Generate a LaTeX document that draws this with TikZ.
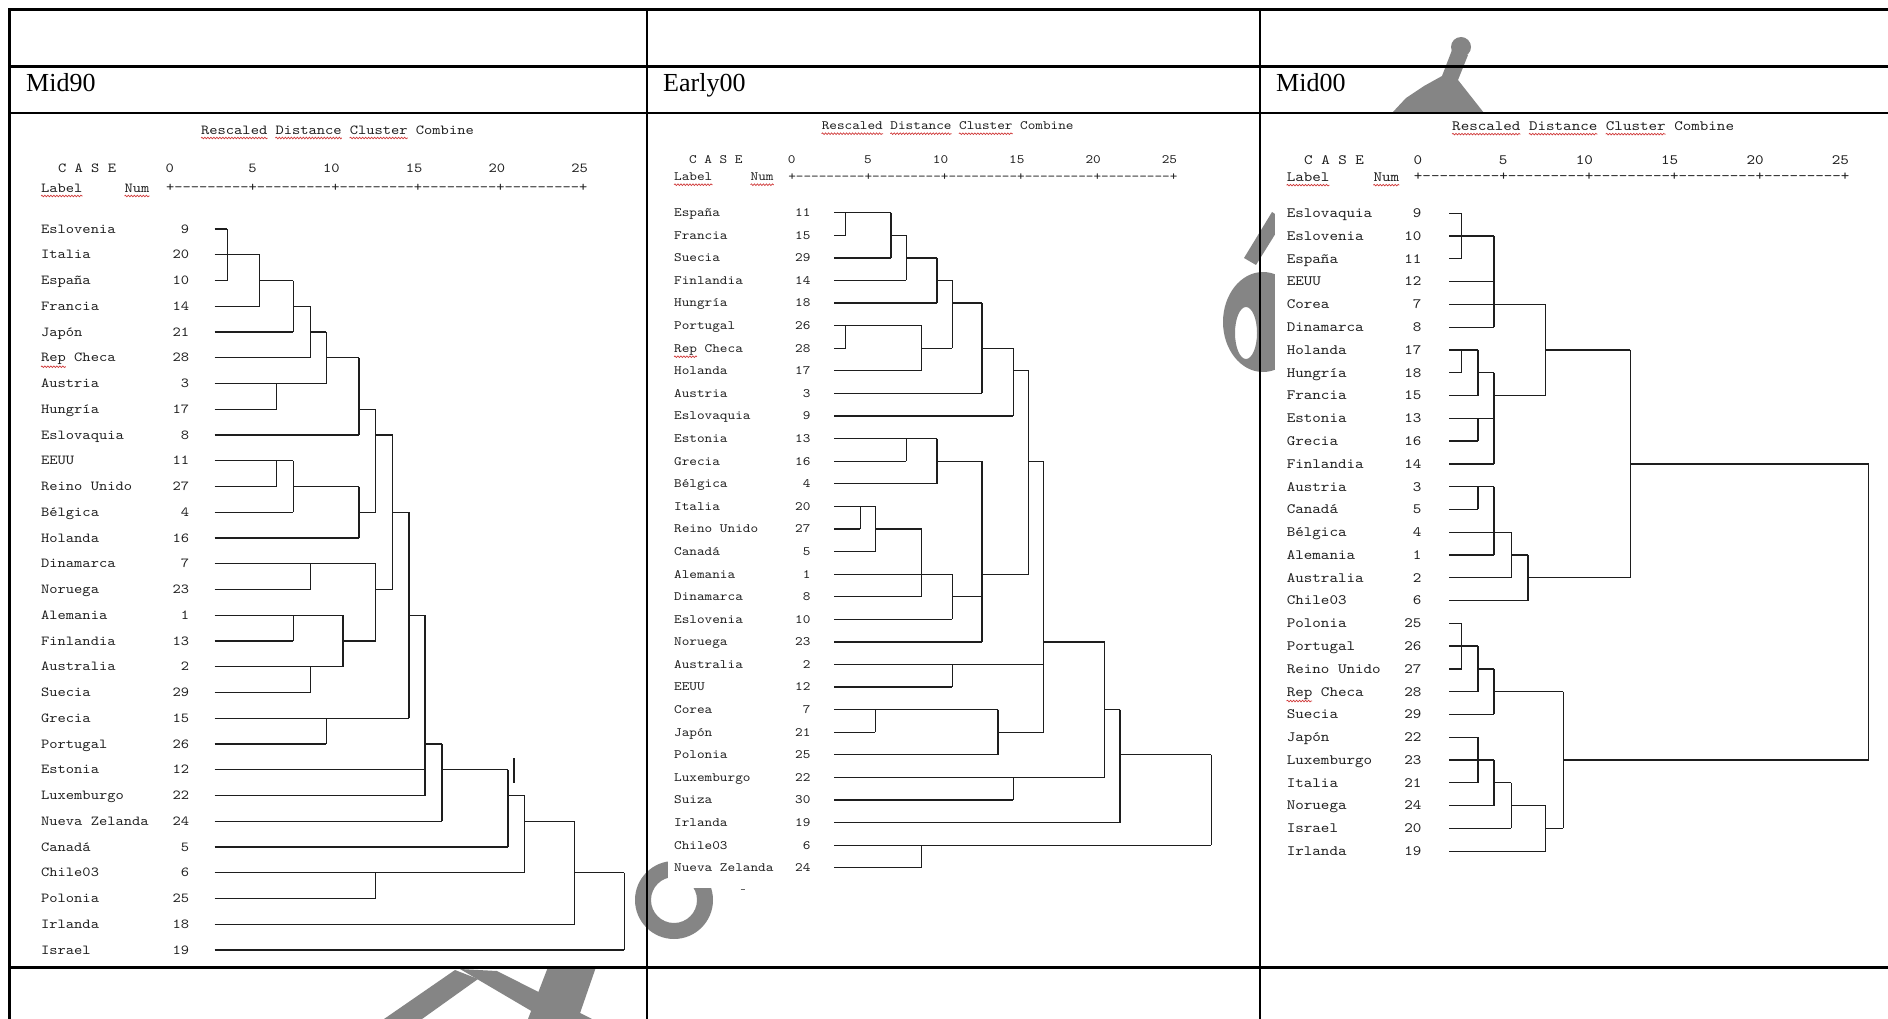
\documentclass[tikz,border=0pt]{standalone}
\usepackage{fontspec}
\newfontfamily\hdrfont{Liberation Serif}
\newfontfamily\dmono{lmmono10-regular.otf}[FakeStretch=1.14]
\usetikzlibrary{decorations.pathmorphing}
\definecolor{wm}{HTML}{858585}
\definecolor{dln}{HTML}{1E1E1E}
\definecolor{sq}{HTML}{D03A3A}
\tikzset{
  tline/.style={line width=2.4pt, black, line cap=rect},
  dline/.style={line width=1.25pt, dln, line cap=square},
  hdr/.style={font=\hdrfont\fontsize{26}{28}\selectfont, inner sep=0pt, anchor=base west},
  mt/.style={font=\dFont, inner sep=0pt, anchor=base west, text=black!88},
  mtr/.style={font=\dFont, inner sep=0pt, anchor=base east, text=black!88},
  squig/.style={draw=sq, line width=0.7pt, decorate, decoration={snake, amplitude=0.8pt, segment length=3pt}},
}
\newcommand{\dendDash}{-\kern0pt-\kern0pt-\kern0pt-\kern0pt-\kern0pt-\kern0pt-\kern0pt-\kern0pt-}
\newcommand{\dendRuler}{+\kern0pt\dendDash\kern0pt+\kern0pt\dendDash\kern0pt+\kern0pt\dendDash\kern0pt+\kern0pt\dendDash\kern0pt+\kern0pt\dendDash\kern0pt+}
\newcommand{\dendH}[3]{\draw[dline] (#2,{\dYz+(#1-1)*\dYs}) -- (#3,{\dYz+(#1-1)*\dYs});}
\newcommand{\dendV}[3]{\draw[dline] (#1,{\dYz+(#2-1)*\dYs}) -- (#1,{\dYz+(#3-1)*\dYs});}
\newcommand{\dendRow}[3]{%
  \node[mt] (\dP l#1) at (\dLx,{\dYz+(#1-1)*\dYs+\dBo}) {#2};%
  \node[mtr] (\dP n#1) at (\dNx,{\dYz+(#1-1)*\dYs+\dBo}) {#3};}
\newcommand{\dendScale}[3]{%
  \foreach \k/\v in {0/0,1/5,2/10,3/15,4/20,5/25}{%
    \node[mtr] (\dP s\k) at ({#1+\k*#2+\dCw/2},#3) {\v};}}
\newcommand{\dendHead}[8]{%
  \node[mt] (\dP t1) at (#1,#2) {Rescaled};
  \node[mt] (\dP t2) at ({#1+9*\dCw},#2) {Distance};
  \node[mt] (\dP t3) at ({#1+18*\dCw},#2) {Cluster};
  \node[mt] (\dP t4) at ({#1+26*\dCw},#2) {Combine};
  \node[mt] (\dP case) at (#3,#4) {C A S E};
  \node[mt] (\dP lab) at (#5,#7) {Label};
  \node[mt] (\dP num) at (#6,#7) {Num};
  \node[mt] (\dP rul) at ({\dPl-\dCw/2},#8) {\dendRuler};
  \foreach \w in {t1,t2,t3,lab,num}{\draw[squig] ([yshift=-3.8pt]\dP\w.base west) -- ([yshift=-3.8pt]\dP\w.base east);}
}
\begin{document}
\begin{tikzpicture}[x=1pt,y=-1pt]
\useasboundingbox (0,0) rectangle (1888,1019);
\fill[white] (0,0) rectangle (1888,1019);
% ---------- watermark (behind the pictures) ----------
\fill[wm] (1461,47) circle (10);
\fill[wm] (1452,50) -- (1468,55) -- (1458,80) -- (1484,113) -- (1392,113) -- (1406,98) -- (1424,86) -- (1442,76) -- cycle;
\begin{scope}
  \clip (1222,113) rectangle (1276,967);
  \fill[wm] (1244,258) -- (1256,265) -- (1284,220) -- (1272,212) -- cycle;
  \fill[wm, even odd rule] (1263,322) ellipse [x radius=40, y radius=50] (1246,333) ellipse [x radius=11, y radius=26];
\end{scope}
\fill[wm, even odd rule] (674,900) circle (39) (674,900) circle (23);
\fill[wm] (384,1019) -- (422,1019) -- (478,979) -- (455,970) -- cycle;
\fill[wm] (460,969) -- (497,971) -- (592,1019) -- (545,1019) -- cycle;
\fill[wm] (548,967) -- (596,967) -- (578,1019) -- (528,1019) -- cycle;
% picture backgrounds
\fill[white] (25,113.5) rectangle (635,967.5);
\fill[white] (668,113.5) rectangle (1222,888);
\fill[white] (1275,113.5) rectangle (1888,967.5);
% ---------- table ----------
\draw[tline] (9.3,9.5) -- (1888,9.5);
\draw[tline] (9.3,66.7) -- (1888,66.7);
\draw[tline] (9.3,113.3) -- (1888,113.3);
\draw[tline] (9.3,967.5) -- (1888,967.5);
\draw[tline] (9.3,9.5) -- (9.3,1019);
\draw[tline] (647,9.5) -- (647,1019);
\draw[tline] (1260,9.5) -- (1260,1019);
\node[hdr] (h1) at (26,91.5) {Mid90};
\node[hdr] (h2) at (663,91.5) {Early00};
\node[hdr] (h3) at (1276,91.5) {Mid00};
% ================= Panel 1 : Mid90 =================
\def\dFont{\dmono\fontsize{13.8}{14}\selectfont}
\def\dP{A}\def\dCw{8.26}\def\dPl{170}
\def\dLx{41}\def\dNx{189.4}\def\dYz{229}\def\dYs{25.75}\def\dBo{4.2}
\dendHead{201}{134.2}{58}{172.2}{41}{124.5}{192.2}{191.5}
\dendScale{170}{82.8}{172.2}
\dendRow{1}{Eslovenia}{9}
\dendRow{2}{Italia}{20}
\dendRow{3}{España}{10}
\dendRow{4}{Francia}{14}
\dendRow{5}{Japón}{21}
\dendRow{6}{Rep Checa}{28}
\dendRow{7}{Austria}{3}
\dendRow{8}{Hungría}{17}
\dendRow{9}{Eslovaquia}{8}
\dendRow{10}{EEUU}{11}
\dendRow{11}{Reino Unido}{27}
\dendRow{12}{Bélgica}{4}
\dendRow{13}{Holanda}{16}
\dendRow{14}{Dinamarca}{7}
\dendRow{15}{Noruega}{23}
\dendRow{16}{Alemania}{1}
\dendRow{17}{Finlandia}{13}
\dendRow{18}{Australia}{2}
\dendRow{19}{Suecia}{29}
\dendRow{20}{Grecia}{15}
\dendRow{21}{Portugal}{26}
\dendRow{22}{Estonia}{12}
\dendRow{23}{Luxemburgo}{22}
\dendRow{24}{Nueva Zelanda}{24}
\dendRow{25}{Canadá}{5}
\dendRow{26}{Chile03}{6}
\dendRow{27}{Polonia}{25}
\dendRow{28}{Irlanda}{18}
\dendRow{29}{Israel}{19}
\draw[squig] ([yshift=-4.8pt]Al6.base west) -- ++(24.8,0);
\def\dxa{214.6}\def\dxb{227.3}\def\dxc{259.7}\def\dxd{276.5}\def\dxe{293.4}\def\dxf{310.2}
\def\dxg{326.2}\def\dxh{343.0}\def\dxi{359.0}\def\dxj{375.8}\def\dxk{392.7}\def\dxl{409.1}
\def\dxm{425.1}\def\dxn{441.9}\def\dxo{508.0}\def\dxp{524.8}\def\dxq{574.5}\def\dxr{624.2}
\dendH{1}{\dxa}{\dxb}
\dendH{2}{\dxa}{\dxc}
\dendH{3}{\dxa}{\dxb}\dendH{3}{\dxc}{\dxe}
\dendH{4}{\dxa}{\dxc}\dendH{4}{\dxe}{\dxf}
\dendH{5}{\dxa}{\dxe}\dendH{5}{\dxf}{\dxg}
\dendH{6}{\dxa}{\dxf}\dendH{6}{\dxg}{\dxi}
\dendH{7}{\dxa}{\dxg}
\dendH{8}{\dxa}{\dxd}\dendH{8}{\dxi}{\dxj}
\dendH{9}{\dxa}{\dxi}\dendH{9}{\dxj}{\dxk}
\dendH{10}{\dxa}{\dxe}
\dendH{11}{\dxa}{\dxd}\dendH{11}{\dxe}{\dxi}
\dendH{12}{\dxa}{\dxe}\dendH{12}{\dxi}{\dxj}\dendH{12}{\dxk}{\dxl}
\dendH{13}{\dxa}{\dxi}
\dendH{14}{\dxa}{\dxj}
\dendH{15}{\dxa}{\dxf}\dendH{15}{\dxj}{\dxk}
\dendH{16}{\dxa}{\dxh}\dendH{16}{\dxl}{\dxm}
\dendH{17}{\dxa}{\dxe}\dendH{17}{\dxh}{\dxj}
\dendH{18}{\dxa}{\dxh}
\dendH{19}{\dxa}{\dxf}
\dendH{20}{\dxa}{\dxl}
\dendH{21}{\dxa}{\dxg}\dendH{21}{\dxm}{\dxn}
\dendH{22}{\dxa}{\dxm}\dendH{22}{\dxn}{\dxo}
\dendH{23}{\dxa}{\dxm}\dendH{23}{\dxo}{\dxp}
\dendH{24}{\dxa}{\dxn}\dendH{24}{\dxp}{\dxq}
\dendH{25}{\dxa}{\dxo}
\dendH{26}{\dxa}{\dxp}\dendH{26}{\dxq}{\dxr}
\dendH{27}{\dxa}{\dxj}
\dendH{28}{\dxa}{\dxq}
\dendH{29}{\dxa}{\dxr}
\dendV{\dxb}{1}{3}\dendV{\dxc}{2}{4}\dendV{\dxe}{3}{5}\dendV{\dxf}{4}{6}
\dendV{\dxg}{5}{7}\dendV{\dxd}{7}{8}\dendV{\dxi}{6}{9}\dendV{\dxj}{8}{12}
\dendV{\dxd}{10}{11}\dendV{\dxe}{10}{12}\dendV{\dxi}{11}{13}\dendV{\dxf}{14}{15}
\dendV{\dxe}{16}{17}\dendV{\dxf}{18}{19}\dendV{\dxh}{16}{18}\dendV{\dxj}{14}{17}
\dendV{\dxk}{9}{15}\dendV{\dxl}{12}{20}\dendV{\dxg}{20}{21}\dendV{\dxm}{16}{23}
\dendV{\dxn}{21}{24}\dendV{\dxo}{22}{25}\dendV{\dxj}{26}{27}\dendV{\dxp}{23}{26}
\dendV{\dxq}{24}{28}\dendV{\dxr}{26}{29}
\draw[line width=2pt, dln] (513.5,758) -- (513.5,783);
% ================= Panel 2 : Early00 =================
\def\dFont{\dmono\fontsize{12.75}{13}\selectfont}
\def\dP{B}\def\dCw{7.63}\def\dPl{791.9}
\def\dLx{674}\def\dNx{810.7}\def\dYz{212.7}\def\dYs{22.59}\def\dBo{3.9}
\dendHead{821.6}{129.9}{689}{163.9}{674}{750.5}{180.9}{180.2}
\dendScale{791.9}{76.32}{163.9}
\dendRow{1}{España}{11}
\dendRow{2}{Francia}{15}
\dendRow{3}{Suecia}{29}
\dendRow{4}{Finlandia}{14}
\dendRow{5}{Hungría}{18}
\dendRow{6}{Portugal}{26}
\dendRow{7}{Rep Checa}{28}
\dendRow{8}{Holanda}{17}
\dendRow{9}{Austria}{3}
\dendRow{10}{Eslovaquia}{9}
\dendRow{11}{Estonia}{13}
\dendRow{12}{Grecia}{16}
\dendRow{13}{Bélgica}{4}
\dendRow{14}{Italia}{20}
\dendRow{15}{Reino Unido}{27}
\dendRow{16}{Canadá}{5}
\dendRow{17}{Alemania}{1}
\dendRow{18}{Dinamarca}{8}
\dendRow{19}{Eslovenia}{10}
\dendRow{20}{Noruega}{23}
\dendRow{21}{Australia}{2}
\dendRow{22}{EEUU}{12}
\dendRow{23}{Corea}{7}
\dendRow{24}{Japón}{21}
\dendRow{25}{Polonia}{25}
\dendRow{26}{Luxemburgo}{22}
\dendRow{27}{Suiza}{30}
\dendRow{28}{Irlanda}{19}
\dendRow{29}{Chile03}{6}
\dendRow{30}{Nueva Zelanda}{24}
\draw[squig] ([yshift=-4.6pt]Bl7.base west) -- ++(22.9,0);
\def\dxa{834.1}\def\dxb{845.7}\def\dxc{860.2}\def\dxd{875.4}\def\dxe{891.1}\def\dxf{906.4}
\def\dxg{921.6}\def\dxh{936.9}\def\dxi{952.2}\def\dxj{981.9}\def\dxk{998.0}\def\dxl{1013.2}
\def\dxm{1028.5}\def\dxn{1043.8}\def\dxo{1104.8}\def\dxp{1120.1}\def\dxq{1211.3}
\dendH{1}{\dxa}{\dxe}
\dendH{2}{\dxa}{\dxb}\dendH{2}{\dxe}{\dxf}
\dendH{3}{\dxa}{\dxe}\dendH{3}{\dxf}{\dxh}
\dendH{4}{\dxa}{\dxf}\dendH{4}{\dxh}{\dxi}
\dendH{5}{\dxa}{\dxh}\dendH{5}{\dxi}{\dxj}
\dendH{6}{\dxa}{\dxg}
\dendH{7}{\dxa}{\dxb}\dendH{7}{\dxg}{\dxi}\dendH{7}{\dxj}{\dxl}
\dendH{8}{\dxa}{\dxg}\dendH{8}{\dxl}{\dxm}
\dendH{9}{\dxa}{\dxj}
\dendH{10}{\dxa}{\dxl}
\dendH{11}{\dxa}{\dxh}
\dendH{12}{\dxa}{\dxf}\dendH{12}{\dxh}{\dxj}\dendH{12}{\dxm}{\dxn}
\dendH{13}{\dxa}{\dxh}
\dendH{14}{\dxa}{\dxd}
\dendH{15}{\dxa}{\dxc}\dendH{15}{\dxd}{\dxg}
\dendH{16}{\dxa}{\dxd}
\dendH{17}{\dxa}{\dxi}\dendH{17}{\dxj}{\dxm}
\dendH{18}{\dxa}{\dxg}\dendH{18}{\dxi}{\dxj}
\dendH{19}{\dxa}{\dxi}
\dendH{20}{\dxa}{\dxj}\dendH{20}{\dxn}{\dxo}
\dendH{21}{\dxa}{\dxn}
\dendH{22}{\dxa}{\dxi}
\dendH{23}{\dxa}{\dxk}\dendH{23}{\dxo}{\dxp}
\dendH{24}{\dxa}{\dxd}\dendH{24}{\dxk}{\dxn}
\dendH{25}{\dxa}{\dxk}\dendH{25}{\dxp}{\dxq}
\dendH{26}{\dxa}{\dxo}
\dendH{27}{\dxa}{\dxl}
\dendH{28}{\dxa}{\dxp}
\dendH{29}{\dxa}{\dxq}
\dendH{30}{\dxa}{\dxg}
\dendV{\dxb}{1}{2}\dendV{\dxe}{1}{3}\dendV{\dxf}{2}{4}\dendV{\dxh}{3}{5}
\dendV{\dxi}{4}{7}\dendV{\dxb}{6}{7}\dendV{\dxg}{6}{8}\dendV{\dxj}{5}{9}
\dendV{\dxl}{7}{10}\dendV{\dxm}{8}{17}\dendV{\dxf}{11}{12}\dendV{\dxh}{11}{13}
\dendV{\dxc}{14}{15}\dendV{\dxd}{14}{16}\dendV{\dxg}{15}{18}\dendV{\dxi}{17}{19}
\dendV{\dxj}{12}{20}\dendV{\dxn}{12}{24}\dendV{\dxi}{21}{22}\dendV{\dxd}{23}{24}
\dendV{\dxk}{23}{25}\dendV{\dxo}{20}{26}\dendV{\dxl}{26}{27}\dendV{\dxp}{23}{28}
\dendV{\dxq}{25}{29}\dendV{\dxg}{29}{30}
\draw[line width=1pt, black!60] (740.5,889) -- (744.5,889);
% ================= Panel 3 : Mid00 =================
\def\dFont{\dmono\fontsize{14.27}{15}\selectfont}
\def\dP{C}\def\dCw{8.54}\def\dPl{1418}
\def\dLx{1286.6}\def\dNx{1421.7}\def\dYz{213.3}\def\dYs{22.78}\def\dBo{4.35}
\dendHead{1452}{130.35}{1304}{164.35}{1286.6}{1373.3}{181.35}{180.6}
\dendScale{1418}{85.38}{164.35}
\dendRow{1}{Eslovaquia}{9}
\dendRow{2}{Eslovenia}{10}
\dendRow{3}{España}{11}
\dendRow{4}{EEUU}{12}
\dendRow{5}{Corea}{7}
\dendRow{6}{Dinamarca}{8}
\dendRow{7}{Holanda}{17}
\dendRow{8}{Hungría}{18}
\dendRow{9}{Francia}{15}
\dendRow{10}{Estonia}{13}
\dendRow{11}{Grecia}{16}
\dendRow{12}{Finlandia}{14}
\dendRow{13}{Austria}{3}
\dendRow{14}{Canadá}{5}
\dendRow{15}{Bélgica}{4}
\dendRow{16}{Alemania}{1}
\dendRow{17}{Australia}{2}
\dendRow{18}{Chile03}{6}
\dendRow{19}{Polonia}{25}
\dendRow{20}{Portugal}{26}
\dendRow{21}{Reino Unido}{27}
\dendRow{22}{Rep Checa}{28}
\dendRow{23}{Suecia}{29}
\dendRow{24}{Japón}{22}
\dendRow{25}{Luxemburgo}{23}
\dendRow{26}{Italia}{21}
\dendRow{27}{Noruega}{24}
\dendRow{28}{Israel}{20}
\dendRow{29}{Irlanda}{19}
\draw[squig] ([yshift=-5pt]Cl22.base west) -- ++(25.6,0);
\def\dxa{1449.4}\def\dxb{1461.6}\def\dxc{1477.9}\def\dxd{1494.1}\def\dxe{1511.2}
\def\dxf{1527.9}\def\dxg{1545.8}\def\dxh{1563.3}\def\dxi{1630.4}\def\dxj{1868.5}
\dendH{1}{\dxa}{\dxb}
\dendH{2}{\dxa}{\dxd}
\dendH{3}{\dxa}{\dxb}
\dendH{4}{\dxa}{\dxd}
\dendH{5}{\dxa}{\dxg}
\dendH{6}{\dxa}{\dxd}
\dendH{7}{\dxa}{\dxc}\dendH{7}{\dxg}{\dxi}
\dendH{8}{\dxa}{\dxb}\dendH{8}{\dxc}{\dxd}
\dendH{9}{\dxa}{\dxc}\dendH{9}{\dxd}{\dxg}
\dendH{10}{\dxa}{\dxd}
\dendH{11}{\dxa}{\dxc}
\dendH{12}{\dxa}{\dxd}\dendH{12}{\dxi}{\dxj}
\dendH{13}{\dxa}{\dxd}
\dendH{14}{\dxa}{\dxc}
\dendH{15}{\dxa}{\dxe}
\dendH{16}{\dxa}{\dxd}\dendH{16}{\dxe}{\dxf}
\dendH{17}{\dxa}{\dxe}\dendH{17}{\dxf}{\dxi}
\dendH{18}{\dxa}{\dxf}
\dendH{19}{\dxa}{\dxb}
\dendH{20}{\dxa}{\dxc}
\dendH{21}{\dxa}{\dxb}\dendH{21}{\dxc}{\dxd}
\dendH{22}{\dxa}{\dxc}\dendH{22}{\dxd}{\dxh}
\dendH{23}{\dxa}{\dxd}
\dendH{24}{\dxa}{\dxc}
\dendH{25}{\dxa}{\dxd}\dendH{25}{\dxh}{\dxj}
\dendH{26}{\dxa}{\dxc}\dendH{26}{\dxd}{\dxe}
\dendH{27}{\dxa}{\dxd}\dendH{27}{\dxe}{\dxg}
\dendH{28}{\dxa}{\dxe}\dendH{28}{\dxg}{\dxh}
\dendH{29}{\dxa}{\dxg}
\dendV{\dxb}{1}{3}\dendV{\dxd}{2}{6}\dendV{\dxb}{7}{8}\dendV{\dxc}{7}{9}
\dendV{\dxd}{8}{12}\dendV{\dxc}{10}{11}\dendV{\dxg}{5}{9}\dendV{\dxi}{7}{17}
\dendV{\dxc}{13}{14}\dendV{\dxd}{13}{16}\dendV{\dxe}{15}{17}\dendV{\dxf}{16}{18}
\dendV{\dxj}{12}{25}\dendV{\dxb}{19}{21}\dendV{\dxc}{20}{22}\dendV{\dxd}{21}{23}
\dendV{\dxh}{22}{28}\dendV{\dxc}{24}{26}\dendV{\dxd}{25}{27}\dendV{\dxe}{26}{28}
\dendV{\dxg}{27}{29}
\end{tikzpicture}
\end{document}
